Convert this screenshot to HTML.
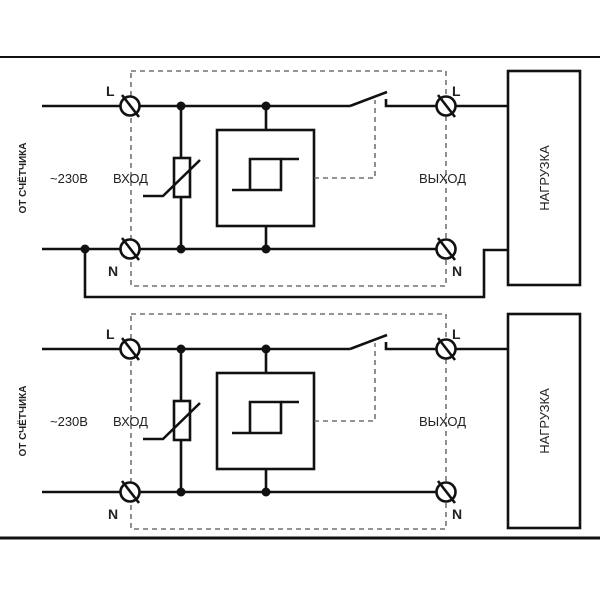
<!DOCTYPE html>
<html><head><meta charset="utf-8"><style>
body{margin:0;background:#fff}
svg{display:block}
text{font-family:"Liberation Sans",sans-serif;fill:#222}
</style></head><body>
<svg width="600" height="600" viewBox="0 0 600 600">
<defs>
<g id="panel">
  <rect x="131" y="71" width="315" height="215" fill="none" stroke="#555" stroke-width="1.3" stroke-dasharray="5,4"/>
  <g stroke="#111" stroke-width="2.6" fill="none">
    <line x1="42" y1="106" x2="350" y2="106"/>
    <line x1="350" y1="106" x2="387" y2="92"/>
    <polyline points="386,99 386,106 508,106"/>
    <line x1="42" y1="249" x2="440" y2="249"/>
    <line x1="181" y1="106" x2="181" y2="158"/>
    <line x1="181" y1="197" x2="181" y2="249"/>
    <rect x="174" y="158" width="16" height="39"/>
    <polyline points="143,196 163,196 200,160"/>
    <line x1="266" y1="106" x2="266" y2="130"/>
    <line x1="266" y1="226" x2="266" y2="249"/>
    <rect x="217" y="130" width="97" height="96"/>
    <polyline points="232,190 281,190 281,159 250,159 250,190"/>
    <line x1="281" y1="159" x2="299" y2="159"/>
    <rect x="508" y="71" width="72" height="214"/>
  </g>
  <polyline points="314,178 375,178 375,100" fill="none" stroke="#555" stroke-width="1.3" stroke-dasharray="5,4"/>
  <g fill="#111">
    <circle cx="181" cy="106" r="4.5"/><circle cx="266" cy="106" r="4.5"/>
    <circle cx="181" cy="249" r="4.5"/><circle cx="266" cy="249" r="4.5"/>
  </g>
  <g stroke="#111" stroke-width="2.6" fill="#fff">
    <circle cx="130" cy="106" r="9.5"/><line x1="122" y1="95" x2="139" y2="117"/>
    <circle cx="130" cy="249" r="9.5"/><line x1="122" y1="238" x2="139" y2="260"/>
    <circle cx="446" cy="106" r="9.5"/><line x1="438" y1="95" x2="455" y2="117"/>
    <circle cx="446" cy="249" r="9.5"/><line x1="438" y1="238" x2="455" y2="260"/>
  </g>
  <g font-weight="bold" font-size="14">
    <text x="106" y="96">L</text><text x="108" y="276">N</text>
    <text x="452" y="96">L</text><text x="452" y="276">N</text>
  </g>
  <text x="50" y="183" font-size="13">~230В</text>
  <text x="113" y="183" font-size="13">ВХОД</text>
  <text x="419" y="183" font-size="13">ВЫХОД</text>
  <text transform="translate(26,178) rotate(-90)" text-anchor="middle" font-size="10" font-weight="bold">ОТ СЧЁТЧИКА</text>
  <text transform="translate(549,178) rotate(-90)" text-anchor="middle" font-size="13">НАГРУЗКА</text>
</g>
</defs>
<line x1="0" y1="57" x2="600" y2="57" stroke="#111" stroke-width="2"/>
<use href="#panel"/>
<circle cx="85" cy="249" r="4.5" fill="#111"/>
<polyline points="85,249 85,297 484,297 484,250 508,250" fill="none" stroke="#111" stroke-width="2.6"/>
<use href="#panel" transform="translate(0,243)"/>
<line x1="0" y1="538" x2="600" y2="538" stroke="#111" stroke-width="3"/>
</svg>
</body></html>
